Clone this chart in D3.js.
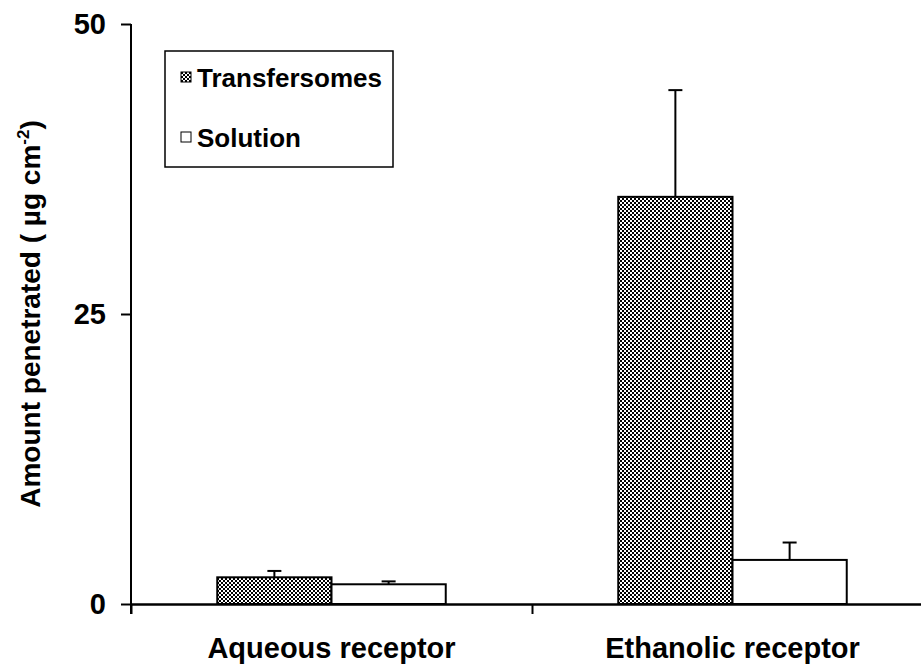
<!DOCTYPE html>
<html>
<head>
<meta charset="utf-8">
<script src="https://cdn.jsdelivr.net/npm/d3@7"></script>
<style>
    body { margin: 0; background: #fff; }
    text { font-family: 'Liberation Sans', Arial, sans-serif; font-weight: bold; fill: #000; }
</style>
</head>
<body>
<div id="chart"></div>
<script>
var categories = ['Aqueous receptor', 'Ethanolic receptor'];
var seriesNames = ['Transfersomes', 'Solution'];
var transfersomes = [2.3, 35.1];
var transfersomesErr = [0.55, 9.2];
var solution = [1.7, 3.8];
var solutionErr = [0.25, 1.5];
var yTicks = [0, 25, 50];

var width = 921, height = 670;

var svg = d3.select('#chart')
    .append('svg')
    .attr('width', width)
    .attr('height', height);

var pattern = svg.append('defs')
    .append('pattern')
    .attr('id', 'checker')
    .attr('patternUnits', 'userSpaceOnUse')
    .attr('width', 4)
    .attr('height', 4);

pattern.append('rect')
    .attr('width', 4)
    .attr('height', 4)
    .attr('fill', '#fff');

pattern.selectAll('.chk')
    .data([[0, 0], [2, 2]])
    .enter()
    .append('rect')
    .attr('x', function(d) { return d[0]; })
    .attr('y', function(d) { return d[1]; })
    .attr('width', 2)
    .attr('height', 2)
    .attr('fill', '#000');

var fills = ['url(#checker)', '#fff'];

var rows = categories.map(function(c, i) {
    return {
        category: c,
        bars: [
            { series: seriesNames[0], value: transfersomes[i], err: transfersomesErr[i], fill: fills[0] },
            { series: seriesNames[1], value: solution[i], err: solutionErr[i], fill: fills[1] }
        ]
    };
});

var x0 = 131, x1 = 933;
var y = d3.scaleLinear()
    .domain([0, 50])
    .range([604, 24]);

var xBand = d3.scaleBand()
    .domain(categories)
    .range([x0, x1])
    .padding(0);

// bars take ~57% of each category slot
var inner = d3.scaleBand()
    .domain(seriesNames)
    .range([0, xBand.bandwidth()])
    .paddingOuter(0.755)
    .paddingInner(0);

var groups = svg.append('g')
    .selectAll('.cat')
    .data(rows)
    .enter()
    .append('g')
    .attr('transform', function(d) { return 'translate(' + xBand(d.category) + ',0)'; });

var bars = groups.selectAll('.bar')
    .data(function(d) { return d.bars; })
    .enter()
    .append('g');

// error bars (upper only)
bars.append('line')
    .attr('x1', function(d) { return inner(d.series) + inner.bandwidth() / 2; })
    .attr('x2', function(d) { return inner(d.series) + inner.bandwidth() / 2; })
    .attr('y1', function(d) { return y(d.value); })
    .attr('y2', function(d) { return y(d.value + d.err); })
    .attr('stroke', '#000')
    .attr('stroke-width', 2);

bars.append('line')
    .attr('x1', function(d) { return inner(d.series) + inner.bandwidth() / 2 - 7; })
    .attr('x2', function(d) { return inner(d.series) + inner.bandwidth() / 2 + 7; })
    .attr('y1', function(d) { return y(d.value + d.err); })
    .attr('y2', function(d) { return y(d.value + d.err); })
    .attr('stroke', '#000')
    .attr('stroke-width', 2);

bars.append('rect')
    .attr('x', function(d) { return inner(d.series); })
    .attr('y', function(d) { return y(d.value); })
    .attr('width', inner.bandwidth())
    .attr('height', function(d) { return y(0) - y(d.value); })
    .attr('fill', function(d) { return d.fill; })
    .attr('stroke', '#000')
    .attr('stroke-width', 2);

// y axis
var yAxis = d3.axisLeft(y)
    .tickValues(yTicks)
    .tickSize(10)
    .tickPadding(15)
    .tickSizeOuter(0);

var gy = svg.append('g')
    .attr('transform', 'translate(' + x0 + ',0)')
    .call(yAxis);

gy.select('.domain').remove();
gy.append('line')
    .attr('x1', 0).attr('x2', 0)
    .attr('y1', y(50)).attr('y2', y(0) + 10)
    .attr('stroke', '#000')
    .attr('stroke-width', 2);
gy.selectAll('.tick line').attr('stroke-width', 2);
gy.selectAll('.tick text')
    .style('font-size', '29px')
    .style('font-family', "'Liberation Sans', Arial, sans-serif")
    .style('font-weight', 'bold')
    .attr('fill', '#000');

// x axis: ticks at category boundaries
var xb = d3.scaleLinear().domain([0, categories.length]).range([x0, x1]);
var gx = svg.append('g')
    .attr('transform', 'translate(0,' + y(0) + ')')
    .call(d3.axisBottom(xb)
        .tickValues(d3.range(categories.length + 1))
        .tickFormat('')
        .tickSize(10)
        .tickSizeOuter(0));
gx.select('.domain').attr('stroke-width', 2.5);
gx.selectAll('.tick line').attr('stroke-width', 2);

svg.append('g')
    .selectAll('.cat-label')
    .data(categories)
    .enter()
    .append('text')
    .attr('x', function(d) { return xBand(d) + xBand.bandwidth() / 2; })
    .attr('y', 658)
    .attr('text-anchor', 'middle')
    .style('font-size', '29px')
    .text(function(d) { return d; });

// y label
var yl = svg.append('text')
    .attr('transform', 'translate(40,' + (y(25)) + ') rotate(-90)')
    .attr('text-anchor', 'middle')
    .style('font-size', '28px');
yl.append('tspan').text('Amount penetrated ( \u00b5g cm');
yl.append('tspan').attr('dy', -11).style('font-size', '17px').text('-2');
yl.append('tspan').attr('dy', 11).text(')');

// legend
var legend = svg.append('g');
legend.append('rect')
    .attr('x', 165).attr('y', 51)
    .attr('width', 228).attr('height', 116)
    .attr('fill', '#fff')
    .attr('stroke', '#000')
    .attr('stroke-width', 1.5);

var li = legend.selectAll('.li')
    .data(seriesNames)
    .enter()
    .append('g')
    .attr('transform', function(d, i) { return 'translate(181,' + (72 + i * 60) + ')'; });

li.append('rect')
    .attr('width', 10).attr('height', 10)
    .attr('fill', function(d, i) { return fills[i]; })
    .attr('stroke', '#000')
    .attr('stroke-width', 1);

li.append('text')
    .attr('x', 16)
    .attr('y', 15)
    .style('font-size', '26px')
    .text(function(d) { return d; });
</script>
</body>
</html>
